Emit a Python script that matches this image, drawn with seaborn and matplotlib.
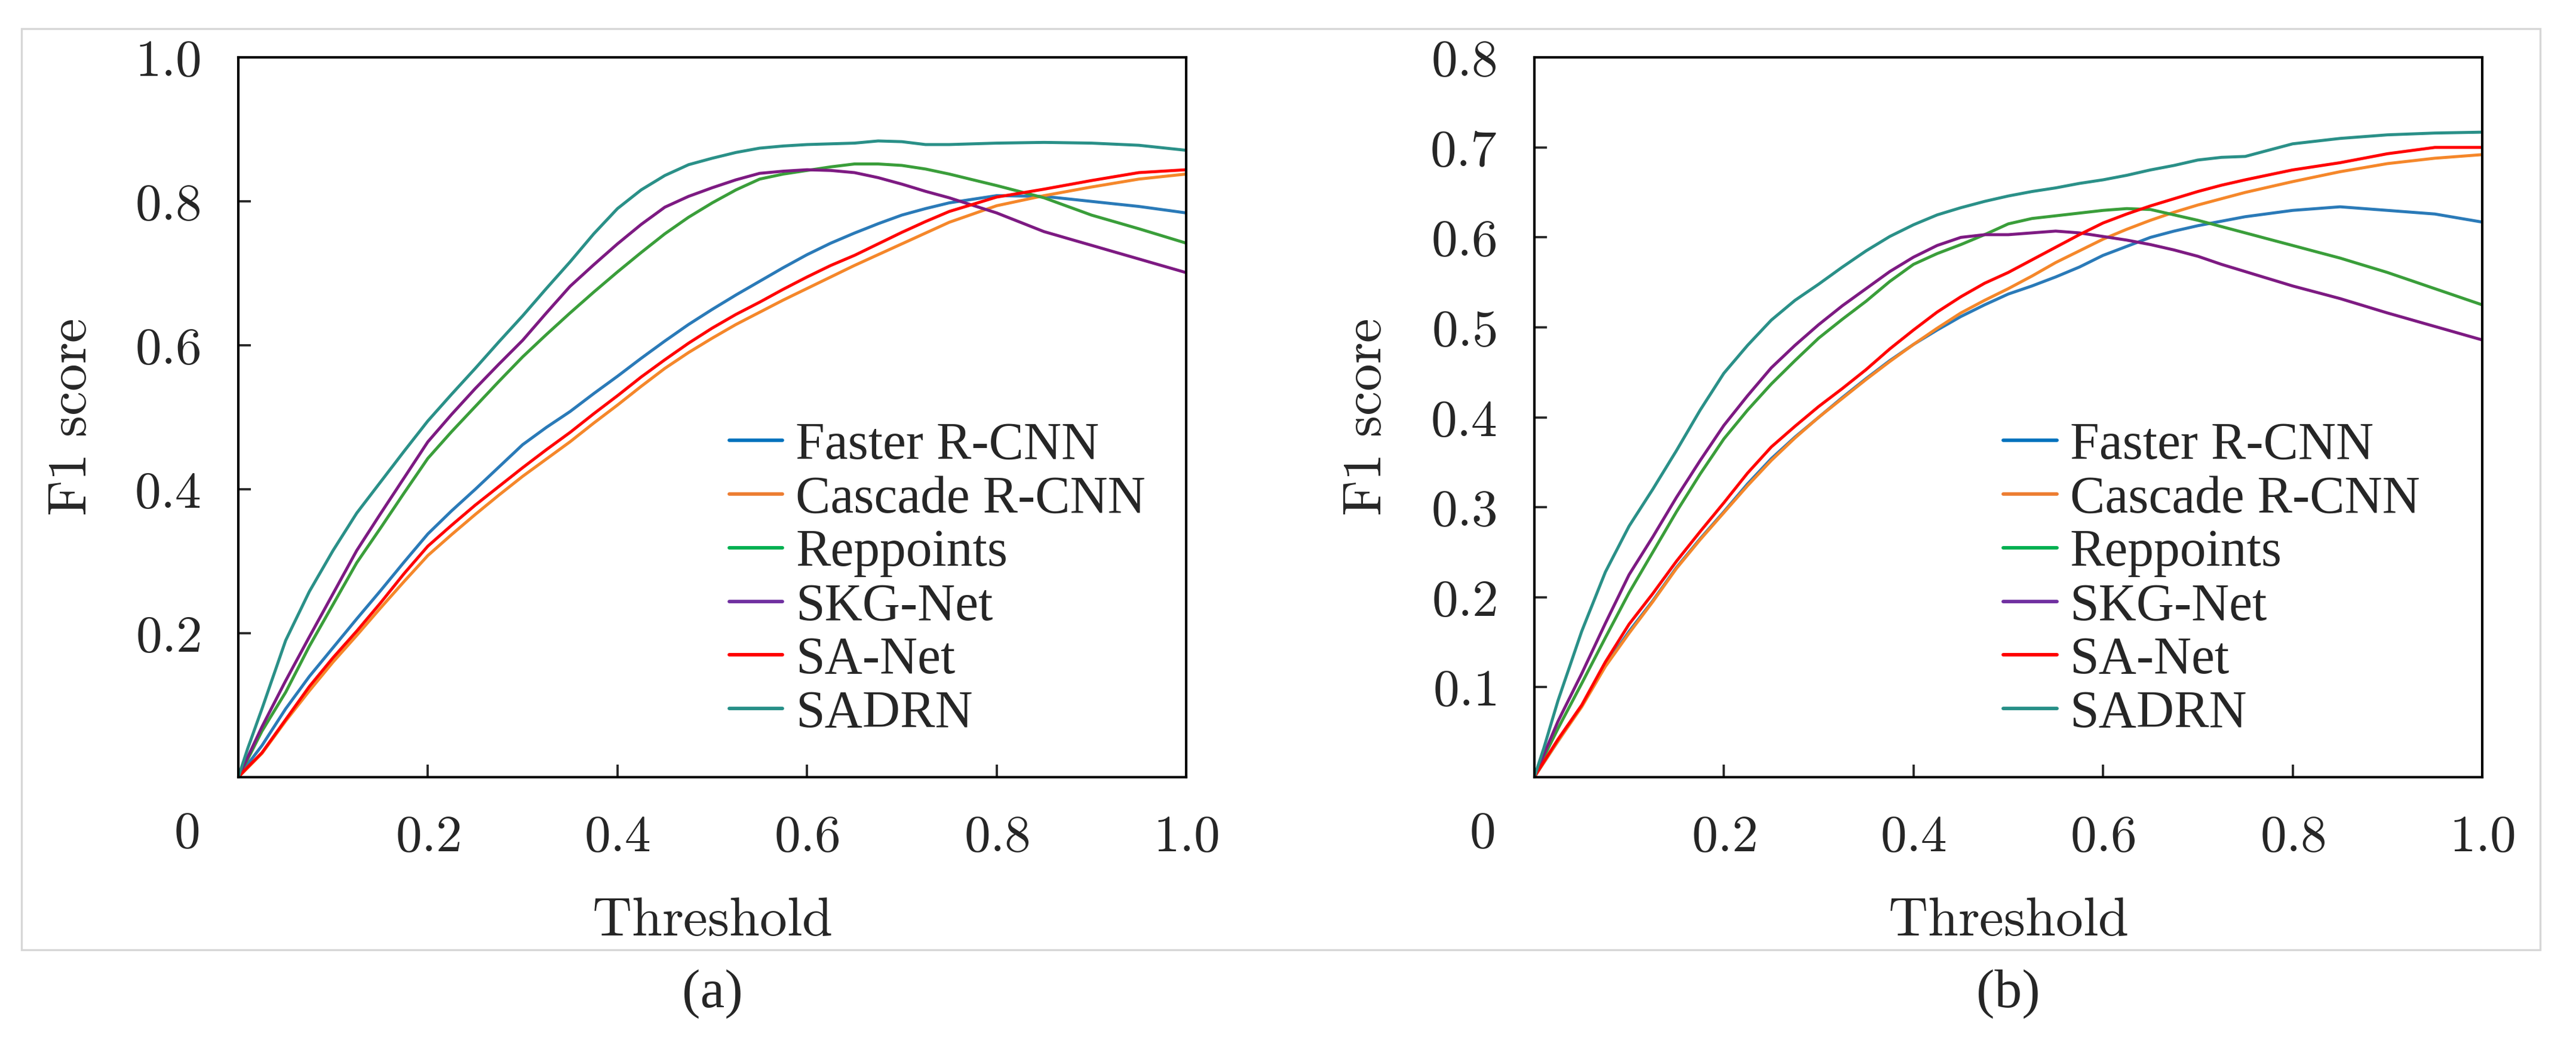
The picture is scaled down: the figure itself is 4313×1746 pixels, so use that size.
import numpy as np
import pandas as pd
import seaborn as sns
import matplotlib.pyplot as plt
from matplotlib.lines import Line2D
from matplotlib.patches import Rectangle
from matplotlib.ticker import FuncFormatter

sns.set_theme(style="white")
plt.rcParams["font.family"] = ["Liberation Serif", "DejaVu Serif"]
plt.rcParams["mathtext.fontset"] = "cm"

models = ["Faster R-CNN", "Cascade R-CNN", "Reppoints", "SKG-Net", "SA-Net", "SADRN"]
line_colors = ["#2a7ab8", "#f5872a", "#3a9e3a", "#7d1a82", "#ff0000", "#2a9088"]
legend_colors = ["#0072bd", "#ed7d31", "#00b050", "#7030a0", "#ff0000", "#268f87"]

threshold = [0, 0.01, 0.025, 0.05, 0.075, 0.1, 0.125, 0.15, 0.175, 0.2, 0.225, 0.25, 0.275,
             0.3, 0.325, 0.35, 0.375, 0.4, 0.425, 0.45, 0.475, 0.5, 0.525, 0.55, 0.575,
             0.6, 0.625, 0.65, 0.675, 0.7, 0.725, 0.75, 0.8, 0.85, 0.9, 0.95, 1.0]

# panel (a)
a_faster = [0, .018, .044, .095, .14, .18, .22, .259, .299, .338, .37, .40, .431, .462, .486,
            .508, .533, .557, .582, .606, .629, .650, .670, .689, .708, .726, .742, .756, .769,
            .781, .790, .798, .808, .807, .800, .793, .784]
a_cascade = [0, .013, .033, .078, .12, .16, .197, .235, .272, .308, .337, .365, .392, .418, .442,
             .466, .492, .517, .543, .568, .590, .610, .629, .646, .663, .679, .695, .711, .726,
             .741, .756, .771, .794, .808, .820, .831, .838]
a_reppoints = [0, .025, .064, .118, .182, .24, .298, .346, .395, .443, .48, .515, .55, .584, .615,
               .645, .674, .702, .729, .755, .778, .798, .816, .831, .838, .843, .848, .852, .852,
               .850, .845, .838, .822, .805, .781, .762, .742]
a_skg = [0, .028, .07, .134, .195, .255, .315, .366, .416, .466, .504, .54, .574, .607, .645,
         .682, .712, .741, .768, .792, .807, .819, .83, .839, .842, .844, .843, .840, .833,
         .824, .814, .805, .784, .758, .739, .72, .701]
a_sanet = [0, .014, .034, .08, .126, .166, .203, .242, .283, .321, .35, .378, .404, .43, .455,
           .479, .505, .530, .556, .580, .603, .624, .643, .660, .678, .695, .711, .725, .741,
           .757, .772, .786, .806, .817, .829, .840, .844]
a_sadrn = [0, .04, .095, .19, .258, .315, .367, .41, .453, .495, .532, .568, .605, .641, .679,
           .716, .755, .79, .816, .836, .851, .86, .868, .874, .877, .879, .880, .881, .884,
           .883, .879, .879, .881, .882, .881, .878, .871]

# panel (b)
b_faster = [0, .016, .04, .079, .124, .162, .196, .233, .265, .295, .326, .354, .378, .400, .422,
            .443, .463, .481, .497, .512, .525, .537, .546, .556, .567, .580, .590, .600, .607,
            .613, .618, .623, .630, .634, .630, .626, .617]
b_cascade = [0, .016, .04, .078, .123, .16, .195, .232, .264, .294, .324, .352, .377, .400, .421,
             .442, .462, .481, .499, .516, .530, .543, .557, .572, .585, .598, .609, .619, .628,
             .636, .643, .650, .662, .673, .682, .688, .692]
b_reppoints = [0, .022, .054, .104, .155, .205, .25, .295, .337, .376, .408, .437, .463, .488, .509,
               .529, .551, .57, .582, .592, .603, .615, .621, .624, .627, .630, .632, .631, .625,
               .619, .612, .605, .591, .577, .561, .543, .525]
b_skg = [0, .025, .062, .115, .171, .225, .267, .311, .352, .391, .424, .455, .480, .503, .524,
         .543, .562, .578, .591, .600, .603, .603, .605, .607, .605, .601, .597, .592, .586,
         .579, .570, .562, .546, .532, .516, .501, .486]
b_sanet = [0, .017, .042, .08, .128, .17, .204, .24, .273, .305, .338, .367, .39, .412, .432,
           .453, .476, .497, .517, .534, .549, .561, .575, .589, .603, .616, .626, .635, .643,
           .651, .658, .664, .675, .683, .693, .700, .700]
b_sadrn = [0, .032, .085, .162, .228, .279, .32, .363, .408, .449, .48, .508, .53, .548, .567,
           .585, .601, .614, .625, .633, .640, .646, .651, .655, .660, .664, .669, .675, .680,
           .686, .689, .690, .704, .710, .714, .716, .717]

panels = [
    ("(a)", [a_faster, a_cascade, a_reppoints, a_skg, a_sanet, a_sadrn], [0.2, 0.4, 0.6, 0.8, 1.0], 1.0, 0.518),
    ("(b)", [b_faster, b_cascade, b_reppoints, b_skg, b_sanet, b_sadrn], [0.1, 0.2, 0.3, 0.4, 0.5, 0.6, 0.7, 0.8], 0.8, 0.495),
]


def to_long(series):
    rows = []
    for name, vals in zip(models, series):
        rows.append(pd.DataFrame({"threshold": threshold, "f1": vals, "model": name}))
    return pd.concat(rows, ignore_index=True)


fig = plt.figure(figsize=(4313 / 300, 1746 / 300), dpi=300)
fig.patches.append(Rectangle((0.0083, 0.0893), 0.9778, 0.8832, transform=fig.transFigure,
                             fill=False, ec="#d6d6d6", lw=0.8))

fmt = FuncFormatter(lambda v, p: f"${v:.1f}$")
lefts = [0.0925, 0.5956]

for (cap, series, yticks, ymax, leg_x), x0 in zip(panels, lefts):
    ax = fig.add_axes([x0, 0.2549, 0.368, 0.690])
    df = to_long(series)
    sns.lineplot(data=df, x="threshold", y="f1", hue="model", hue_order=models,
                 palette=line_colors, linewidth=1.2, legend=False, ax=ax)
    ax.set_xlim(0, 1)
    ax.set_ylim(0, ymax)
    ax.set_xticks([0.2, 0.4, 0.6, 0.8, 1.0])
    ax.set_yticks(yticks)
    ax.xaxis.set_major_formatter(fmt)
    ax.yaxis.set_major_formatter(fmt)
    ax.tick_params(direction="in", length=5, width=0.9, pad=15, labelsize=21,
                   bottom=True, left=True, top=False, right=False)
    for s in ax.spines.values():
        s.set_linewidth(1.0)
        s.set_color("black")
    ax.set_xlabel(r"$\mathrm{Threshold}$", fontsize=22, labelpad=14)
    ax.set_ylabel(r"$\mathrm{F1\ score}$", fontsize=22, labelpad=15)
    ax.text(-0.055, -0.0805, r"$0$", transform=ax.transAxes, ha="center", va="center", fontsize=21)

    handles = [Line2D([], [], color=c, lw=1.4) for c in legend_colors]
    ax.legend(handles, models, loc="center left", bbox_to_anchor=(leg_x, 0.274),
              frameon=False, fontsize=21, handlelength=1.02, handletextpad=0.25,
              labelspacing=0.1, borderpad=0, borderaxespad=0)

    fig.text(x0 + 0.184, 0.047, cap, ha="center", va="center", fontsize=22)

fig.savefig("out.png", dpi=300)
